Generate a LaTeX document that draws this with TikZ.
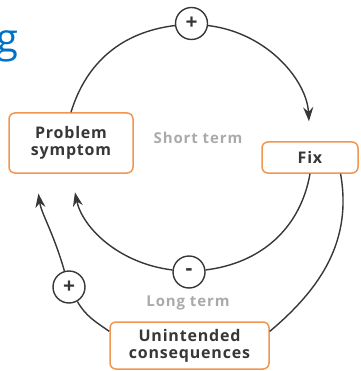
\documentclass[tikz,border=0pt]{standalone}
\usepackage{fontspec}
\setmainfont{Open Sans}
\newfontfamily\lblfont[LetterSpace=5]{Open Sans}
\newfontfamily\termfont[LetterSpace=6]{Open Sans}
\usetikzlibrary{arrows.meta}
\definecolor{boxorange}{RGB}{240,150,80}
\definecolor{linegray}{RGB}{55,55,55}
\definecolor{termgray}{RGB}{170,170,170}
\definecolor{titleblue}{RGB}{0,114,198}
\tikzset{
  box/.style={draw=boxorange, line width=1.5pt, rounded corners=6pt, fill=white, align=center,
    inner sep=0pt, text=linegray, font=\lblfont\fontsize{16}{17}\selectfont\bfseries},
  sign/.style={circle, draw=linegray, line width=1.4pt, fill=white, minimum size=32pt,
    inner sep=0pt, text=linegray, font=\fontsize{21}{21}\selectfont\bfseries},
  term/.style={text=termgray, font=\termfont\fontsize{15}{15}\selectfont\bfseries},
  link/.style={draw=linegray, line width=1.4pt},
  arrow/.style={-{Stealth[length=14pt,width=10pt]}}
}
\begin{document}
\begin{tikzpicture}[x=1pt, y=-1pt]
  \useasboundingbox (0,0) rectangle (360,371);
  \node [anchor=base east, text=titleblue, font=\fontsize{40}{40}\selectfont] (ttl) at (22,53) {g};
  % Kaesten
  \node [box, minimum width=124pt, minimum height=60pt] (ps) at (71,143) {Problem\\symptom};
  \node [box, minimum width=96pt, minimum height=31pt] (fix) at (310,157.5) {Fix};
  \node [box, minimum width=159pt, minimum height=47pt] (uc) at (189.5,345.5) {Unintended\\consequences};
  % Vorzeichen
  \node [sign] (pt) at (191.5,23.5) {+};
  \node [sign] (mn) at (189,272) {-};
  \node [sign] (pl) at (69,287) {+};
  \node [term] (st) at (198,138) {Short term};
  \node [term] (lt) at (188,303) {Long term};
  % innere Schleife
  \draw [link] (ps.north) to[out=73, in=187] (pt);
  \draw [link, arrow, shorten >=20pt] (pt) to[out=-7, in=93] (fix.north);
  \draw [link] (fix.south) to[out=-100, in=7] (mn);
  \draw [link, arrow, shorten >=19pt] (mn) to[out=173, in=-78] (ps.south);
  % aeussere Schleife
  \draw [link] (fix.-28) to[out=-80, in=40] (uc.10);
  \draw [link] (uc.170) to[out=145, in=-60] (pl);
  \draw [link, arrow, shorten >=20pt] (pl) to[out=106, in=-82] (ps.221);
\end{tikzpicture}
\end{document}
